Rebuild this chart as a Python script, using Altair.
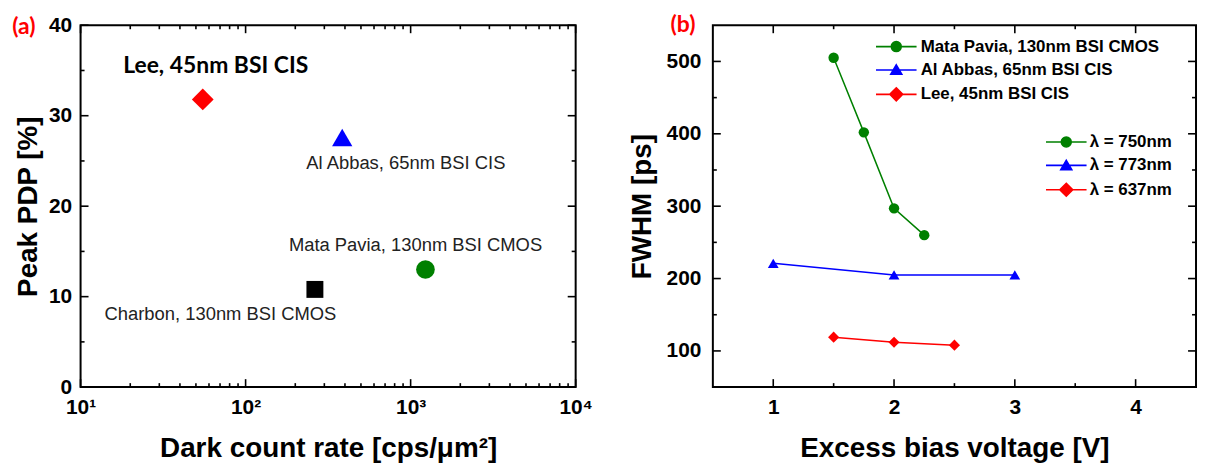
import altair as alt
import pandas as pd

# ---------------- data: panel (a) ----------------
a_names = ["Lee, 45nm BSI CIS", "Al Abbas, 65nm BSI CIS",
           "Mata Pavia, 130nm BSI CMOS", "Charbon, 130nm BSI CMOS"]
a_dcr = [55, 385, 1230, 263]          # cps/um^2
a_pdp = [31.8, 27.6, 13.0, 10.8]      # %

# ---------------- data: panel (b) ----------------
b_series = ["Mata Pavia, 130nm BSI CMOS", "Al Abbas, 65nm BSI CIS", "Lee, 45nm BSI CIS"]
b_wavelength = ["λ = 750nm", "λ = 773nm", "λ = 637nm"]
mata_v = [1.5, 1.75, 2.0, 2.25]
mata_fwhm = [505, 402, 297, 260]
abbas_v = [1.0, 2.0, 3.0]
abbas_fwhm = [221, 205, 205]
lee_v = [1.5, 2.0, 2.5]
lee_fwhm = [119, 112, 108]

panel_labels = ["(a)", "(b)"]

# ---------------- styles ----------------
FONT = "Liberation Sans"
CAL = "Lato"
a_colors = ["#ff0000", "#0000ff", "#008000", "#000000"]
a_shapes = ["diamond", "triangle-up", "circle", "square"]
a_sizes = [480, 290, 240, 200]
b_colors = ["#008000", "#0000ff", "#ff0000"]
b_shapes = ["circle", "triangle-up", "diamond"]
b_sizes = [110, 125, 160]
b_widths = [1.5, 1.5, 2.4]
leg_paths = [
    "M-3.4,0H3.4M0.83,0A0.83,0.83,0,1,1,-0.83,0A0.83,0.83,0,1,1,0.83,0Z",
    "M-3.4,0H3.4M0,-0.85L0.92,0.72L-0.92,0.72Z",
    "M-3.4,0H3.4M0,-1.08L1.08,0L0,1.08L-1.08,0Z",
]

adf = pd.DataFrame({"name": a_names, "dcr": a_dcr, "pdp": a_pdp})
rows = []
for s, w, xs_, ys_ in zip(b_series, b_wavelength,
                          [mata_v, abbas_v, lee_v], [mata_fwhm, abbas_fwhm, lee_fwhm]):
    for xv, yv in zip(xs_, ys_):
        rows.append({"series": s, "wl": w, "v": xv, "fwhm": yv})
bdf = pd.DataFrame(rows)


def axis_layer(df, xf, yf, xs, ys, xmaj, ymaj, xtitle, ytitle, xlabelexpr=None,
               ylabpad=10, ytitlepad=10, xlabpad=10, xtitlepad=17):
    lab = dict(grid=False, ticks=False, domain=False,
               labelFont=FONT, labelFontSize=21, labelFontWeight="bold", labelColor="black",
               titleFont=FONT, titleFontSize=28, titleFontWeight="bold", titleColor="black",
               labelFlush=False, labelOverlap=False)
    xkw = dict(orient="bottom", values=xmaj, labelPadding=xlabpad, title=xtitle,
               titlePadding=xtitlepad, **lab)
    if xlabelexpr:
        xkw["labelExpr"] = xlabelexpr
    ykw = dict(orient="left", values=ymaj, labelPadding=ylabpad, title=ytitle,
               titlePadding=ytitlepad, **lab)
    return alt.Chart(df).mark_point(opacity=0).encode(
        x=alt.X(xf, type="quantitative", scale=xs, axis=alt.Axis(**xkw)),
        y=alt.Y(yf, type="quantitative", scale=ys, axis=alt.Axis(**ykw)))


def tick_layers(xs, ys, W, H, xmaj, xmin, ymaj, ymin):
    out = []
    for vals, L in [(xmaj, 8), (xmin, 4)]:
        df = pd.DataFrame({"t": vals})
        for y0, y1 in [(H, H - L), (0, L)]:
            out.append(alt.Chart(df).mark_rule(color="black", strokeWidth=1.6).encode(
                x=alt.X("t:Q", scale=xs, axis=None), y=alt.value(y0), y2=alt.value(y1)))
    for vals, L in [(ymaj, 8), (ymin, 4)]:
        df = pd.DataFrame({"t": vals})
        for x0, x1 in [(0, L), (W, W - L)]:
            out.append(alt.Chart(df).mark_rule(color="black", strokeWidth=1.6).encode(
                y=alt.Y("t:Q", scale=ys, axis=None), x=alt.value(x0), x2=alt.value(x1)))
    return out


# ---------------- panel (a) ----------------
WA, HA = 498, 364
xs_a = alt.Scale(type="log", domain=[10, 10000], nice=False)
ys_a = alt.Scale(domain=[0, 40], nice=False, zero=False)

xa_major = [10, 100, 1000, 10000]
xa_minor = [m * d for d in [10, 100, 1000] for m in range(2, 10)]
ya_major = [0, 10, 20, 30, 40]
ya_minor = [5, 15, 25, 35]

log_expr = ("datum.value == 10 ? '10¹' : datum.value == 100 ? '10²' : "
            "datum.value == 1000 ? '10³' : '10⁴'")

a_axis = axis_layer(adf, "dcr", "pdp", xs_a, ys_a, xa_major, ya_major,
                    "Dark count rate [cps/μm²]", "Peak PDP [%]",
                    xlabelexpr=log_expr, ylabpad=9, ytitlepad=6)
a_ticks = tick_layers(xs_a, ys_a, WA, HA, xa_major, xa_minor, ya_major, ya_minor)

a_points = alt.Chart(adf).mark_point(filled=True, opacity=1).encode(
    x=alt.X("dcr:Q", scale=xs_a, axis=None),
    y=alt.Y("pdp:Q", scale=ys_a, axis=None),
    color=alt.Color("name:N", scale=alt.Scale(domain=a_names, range=a_colors), legend=None),
    shape=alt.Shape("name:N", scale=alt.Scale(domain=a_names, range=a_shapes), legend=None),
    size=alt.Size("name:N", scale=alt.Scale(domain=a_names, range=a_sizes), legend=None),
)


def a_text(i, dx, dy, font, size, weight, color):
    return alt.Chart(adf).transform_filter(alt.datum.name == a_names[i]).mark_text(
        dx=dx, dy=dy, font=font, fontSize=size, fontWeight=weight, color=color,
        align="center", baseline="middle").encode(
        x=alt.X("dcr:Q", scale=xs_a, axis=None),
        y=alt.Y("pdp:Q", scale=ys_a, axis=None),
        text="name:N")


a_texts = [
    a_text(0, 13, -34, CAL, 23, "bold", "black"),
    a_text(1, 64, 26, FONT, 18.5, "normal", "#222222"),
    a_text(2, -10, -25, FONT, 18.5, "normal", "#222222"),
    a_text(3, -95, 25, FONT, 18.5, "normal", "#222222"),
]

a_lab = alt.Chart(pd.DataFrame({"t": [panel_labels[0]]})).mark_text(
    font=CAL, fontSize=23, fontWeight="bold", color="#ff0000", align="center",
    baseline="middle").encode(x=alt.value(-57), y=alt.value(2), text="t:N")

panel_a = alt.layer(a_axis, *a_ticks, a_points, *a_texts, a_lab).resolve_axis(
    x="independent", y="independent").properties(width=WA, height=HA)

# ---------------- panel (b) ----------------
WB, HB = 486, 364
xs_b = alt.Scale(domain=[0.5, 4.5], nice=False, zero=False)
ys_b = alt.Scale(domain=[50, 550], nice=False, zero=False)

b_axis = axis_layer(bdf, "v", "fwhm", xs_b, ys_b, [1, 2, 3, 4], [100, 200, 300, 400, 500],
                    "Excess bias voltage [V]", "FWHM [ps]", ylabpad=12, ytitlepad=10)
b_ticks = tick_layers(xs_b, ys_b, WB, HB, [1, 2, 3, 4], [1.5, 2.5, 3.5],
                      [100, 200, 300, 400, 500], [150, 250, 350, 450])

b_color = alt.Color("series:N", scale=alt.Scale(domain=b_series, range=b_colors), legend=None)

b_lines = alt.Chart(bdf).mark_line().encode(
    x=alt.X("v:Q", scale=xs_b, axis=None),
    y=alt.Y("fwhm:Q", scale=ys_b, axis=None),
    color=b_color,
    strokeWidth=alt.StrokeWidth("series:N", scale=alt.Scale(domain=b_series, range=b_widths),
                                legend=None),
    detail="series:N")

b_points = alt.Chart(bdf).mark_point(filled=True, opacity=1).encode(
    x=alt.X("v:Q", scale=xs_b, axis=None),
    y=alt.Y("fwhm:Q", scale=ys_b, axis=None),
    color=b_color,
    shape=alt.Shape("series:N", scale=alt.Scale(domain=b_series, range=b_shapes), legend=None),
    size=alt.Size("series:N", scale=alt.Scale(domain=b_series, range=b_sizes), legend=None),
)


def legend_layer(field, domain, lx, ly, offset):
    lg = dict(orient="none", legendX=lx, legendY=ly, title=None, padding=0,
              labelFont=FONT, labelFontWeight="bold", labelFontSize=17, labelColor="black",
              labelLimit=0, symbolStrokeWidth=1.6, rowPadding=5.5, labelOffset=offset,
              symbolSize=144)
    return alt.Chart(bdf).transform_filter("false").mark_point(filled=True, opacity=1).encode(
        fill=alt.Fill(f"{field}:N", scale=alt.Scale(domain=domain, range=b_colors),
                      legend=alt.Legend(**lg)),
        stroke=alt.Stroke(f"{field}:N", scale=alt.Scale(domain=domain, range=b_colors),
                          legend=alt.Legend(**lg)),
        shape=alt.Shape(f"{field}:N", scale=alt.Scale(domain=domain, range=leg_paths),
                        legend=alt.Legend(**lg)),
    )


leg1 = legend_layer("series", b_series, 176, 13, 16)
leg2 = legend_layer("wl", b_wavelength, 347, 109, 15)

b_lab = alt.Chart(pd.DataFrame({"t": [panel_labels[1]]})).mark_text(
    font=CAL, fontSize=23, fontWeight="bold", color="#ff0000", align="center",
    baseline="middle").encode(x=alt.value(-30), y=alt.value(0), text="t:N")

panel_b = alt.layer(b_axis, *b_ticks, b_lines, b_points, leg1, leg2, b_lab).resolve_axis(
    x="independent", y="independent"
).resolve_scale(
    fill="independent", stroke="independent", shape="independent", size="independent"
).resolve_legend(
    fill="independent", stroke="independent", shape="independent"
).properties(width=WB, height=HB)

chart = alt.hconcat(panel_a, panel_b, spacing=33).configure(
    padding={"left": 3, "top": 4, "right": 0, "bottom": 0}
).configure_view(stroke="black", strokeWidth=2)

chart.save("out.html", embed_options={"renderer": "svg", "actions": False})
